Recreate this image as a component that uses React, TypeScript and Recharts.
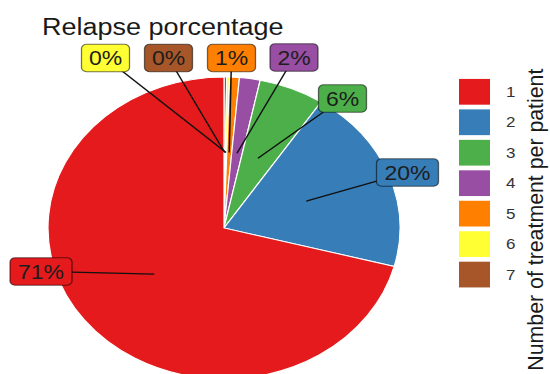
import { Pie, PieChart, Cell } from "recharts";

// treatments per patient, clockwise from 12 o'clock (7 first, 1 last)
const CATEGORIES = ["7", "6", "5", "4", "3", "2", "1"];
const PERCENTS = [0.25, 0.25, 0.9, 1.9, 6.0, 19.8, 70.9];
const LEGEND_ORDER = ["1", "2", "3", "4", "5", "6", "7"];

const COLORS: Record<string, string> = {
  "1": "#e41a1c",
  "2": "#377eb8",
  "3": "#4daf4a",
  "4": "#984ea3",
  "5": "#ff7f00",
  "6": "#ffff33",
  "7": "#a65628",
};

// where the repelled label boxes sit (unscaled chart space)
const LABEL_POS: Record<string, [number, number]> = {
  "6": [105.5, 67.6],
  "7": [168.5, 67.6],
  "5": [231.5, 67.6],
  "4": [294, 67],
  "3": [342.5, 114.8],
  "2": [407.5, 201],
  "1": [41, 316.4],
};

const W = 550;
const SY = 0.858; // the reference is stretched wide
const H = Math.round(374 / SY);
const FONT = "'Liberation Sans', Arial, sans-serif";
const RADIAN = Math.PI / 180;

const data = CATEGORIES.map((name, i) => ({ name, value: PERCENTS[i] }));

function SliceLabel(props: any) {
  const { cx, cy, midAngle, outerRadius, payload } = props;
  const name = payload.name as string;
  const pos = LABEL_POS[name];
  if (!pos) return null;
  const r = outerRadius / 2;
  const ax = cx + r * Math.cos(-midAngle * RADIAN);
  const ay = cy + r * Math.sin(-midAngle * RADIAN);
  const text = `${Math.round(payload.value)}%`;
  const w = 20 + 14 * text.length;
  const h = 32;
  return (
    <g>
      <line x1={ax} y1={ay} x2={pos[0]} y2={pos[1]} stroke="#111" strokeWidth={1.5} />
      <rect
        x={pos[0] - w / 2}
        y={pos[1] - h / 2}
        width={w}
        height={h}
        rx={5}
        fill={COLORS[name]}
        stroke="rgba(0,0,0,0.55)"
        strokeWidth={1.3}
      />
      <text
        x={pos[0]}
        y={pos[1] + 1}
        textAnchor="middle"
        dominantBaseline="central"
        fontSize={23}
        fontFamily={FONT}
        fill="#1d1d1d"
      >
        {text}
      </text>
    </g>
  );
}

export default function App() {
  return (
    <div
      style={{
        position: "absolute",
        left: 0,
        top: 0,
        width: W,
        height: H,
        transform: `scaleY(${SY})`,
        transformOrigin: "0 0",
        background: "#fff",
      }}
    >
      <PieChart width={W} height={H} margin={{ top: 0, right: 0, bottom: 0, left: 0 }}>
        <Pie
          data={data}
          dataKey="value"
          nameKey="name"
          cx={224}
          cy={265.7}
          outerRadius={176}
          startAngle={90}
          endAngle={-270}
          stroke="#fff"
          strokeWidth={1.2}
          label={SliceLabel}
          labelLine={false}
          isAnimationActive={false}
        >
          {data.map((d) => (
            <Cell key={d.name} fill={COLORS[d.name]} />
          ))}
        </Pie>
      </PieChart>
      <svg
        width={W}
        height={H}
        style={{ position: "absolute", left: 0, top: 0, pointerEvents: "none" }}
      >
        <text x={42} y={40.8} fontSize={27} fontFamily={FONT} fill="#1a1a1a">
          Relapse porcentage
        </text>
        {LEGEND_ORDER.map((name, i) => (
          <g key={name}>
            <rect x={459} y={92 + i * 35.5} width={31} height={30} fill={COLORS[name]} />
            <text
              x={506}
              y={107 + i * 35.5}
              dominantBaseline="central"
              fontSize={17}
              fontFamily={FONT}
              fill="#333"
            >
              {name}
            </text>
          </g>
        ))}
        <text
          transform="translate(543, 80) rotate(-90)"
          textAnchor="end"
          fontSize={22}
          textLength={352}
          lengthAdjust="spacingAndGlyphs"
          fontFamily={FONT}
          fill="#1a1a1a"
        >
          Number of treatment per patient
        </text>
      </svg>
    </div>
  );
}
